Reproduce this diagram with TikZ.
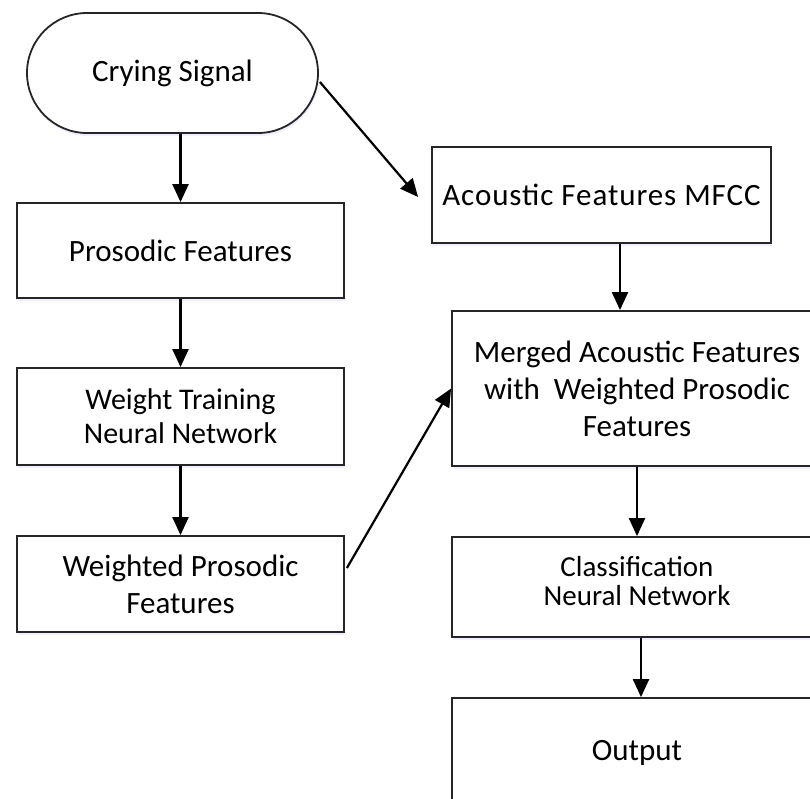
\documentclass[tikz,border=0pt]{standalone}
\usepackage{fontspec}
\setmainfont{Carlito}
\usetikzlibrary{arrows.meta,shapes.misc,calc,shadows}
\begin{document}
\begin{tikzpicture}[x=1pt,y=-1pt,
  box/.style={draw=black!85, line width=1.8pt, rectangle, inner sep=0pt, align=center,
    fill=white, drop shadow={shadow xshift=1pt, shadow yshift=-3pt, fill=blue!25, opacity=0.25}},
  term/.style={box, rounded rectangle, rounded rectangle arc length=180},
  arr/.style={line width=2.2pt, -{Triangle[width=16pt,length=18pt]}},
  txt/.style={font=\fontsize{31}{37}\selectfont}
]
\useasboundingbox (0,0) rectangle (810,798);
\clip (0,0) rectangle (810,798);

% left column
\node[term, txt, minimum width=291pt, minimum height=120pt] (cry) at (172.5,73) {Crying Signal};
\node[box, txt, minimum width=327pt, minimum height=95pt] (pros) at (180.5,250.5) {Prosodic Features};
\node[box, txt, minimum width=327pt, minimum height=97pt, font=\fontsize{30}{34}\selectfont] (wtnn) at (180.5,416.5) {Weight Training\\Neural Network};
\node[box, txt, minimum width=327pt, minimum height=96pt] (wpf) at (180.5,584) {Weighted Prosodic\\Features};

% right column
\node[box, txt, minimum width=339pt, minimum height=96pt] (acou) at (601.5,195) {\addfontfeature{LetterSpace=3}Acoustic Features MFCC};
\node[box, txt, minimum width=370pt, minimum height=155pt] (merge) at (637,388.5) {Merged Acoustic Features\\with\ \ Weighted Prosodic\\Features};
\node[box, txt, minimum width=370pt, minimum height=100pt, font=\fontsize{29}{29}\selectfont, text depth=13pt] (cls) at (637,587) {Classification\\Neural Network};
\node[box, txt, minimum width=370pt, minimum height=110pt] (out) at (637,753) {Output};

% connectors
\coordinate (xa) at (620,0);
\coordinate (xb) at (641,0);
\draw[arr] (cry.south -| pros.north) -- (pros.north);
\draw[arr] ($(cry.east)+(1,9)$) -- ($(acou.west)+(-13,2)$);
\draw[arr] (pros.south) -- (wtnn.north);
\draw[arr] (wtnn.south) -- (wpf.north);
\draw[arr] ($(wpf.east)+(2,-16)$) -- (merge.west);
\draw[arr] (acou.south -| xa) -- (merge.north -| xa);
\draw[arr] (merge.south) -- (cls.north);
\draw[arr] (cls.south -| xb) -- (out.north -| xb);
\end{tikzpicture}
\end{document}
